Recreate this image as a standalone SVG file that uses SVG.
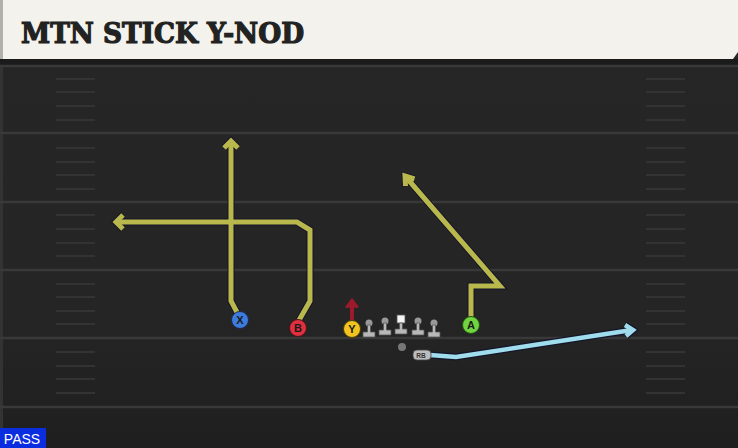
<svg xmlns="http://www.w3.org/2000/svg" width="738" height="448" viewBox="0 0 738 448">
<defs>
<linearGradient id="fg" x1="0" y1="0" x2="0" y2="1">
<stop offset="0" stop-color="#262626"/>
<stop offset="0.7" stop-color="#252525"/>
<stop offset="1" stop-color="#1f1f1f"/>
</linearGradient>
<style>
.yl{stroke:#393939;stroke-width:2.5}
.hm{stroke:#333;stroke-width:2}
.ro{fill:none;stroke:#15152a;stroke-width:7;stroke-linejoin:miter;stroke-linecap:butt}
.rt{fill:none;stroke:#b9b84c;stroke-width:5;stroke-linejoin:miter;stroke-linecap:butt}
.rb{fill:none;stroke:#9fdcec;stroke-width:4.5;stroke-linejoin:miter}
.lab{font-family:"Liberation Sans",Arial,sans-serif;font-weight:bold;font-size:11px;text-anchor:middle;fill:#1a1a1a}
.ol{fill:#b8b8b8;stroke:#555;stroke-width:0.8}
</style>
</defs>
<rect x="0" y="0" width="738" height="448" fill="url(#fg)"/>
<!-- header -->
<rect x="0" y="59" width="738" height="6" fill="#1b1b1b"/>
<path d="M0 0H738V52L733 59H0Z" fill="#f4f2ec"/>
<rect x="0" y="0" width="3" height="59" fill="#b0b0ac"/>
<text x="21" y="42.5" font-family="'DejaVu Serif',serif" font-weight="bold" font-size="27" fill="#222" stroke="#222" stroke-width="1.2" textLength="283" lengthAdjust="spacingAndGlyphs">MTN STICK Y-NOD</text>
<rect x="0" y="65" width="3" height="383" fill="#333"/>
<!-- yard lines -->
<g id="field">
<line class="yl" x1="0" y1="66" x2="738" y2="66"/>
<line class="yl" x1="0" y1="133" x2="738" y2="133"/>
<line class="yl" x1="0" y1="202" x2="738" y2="202"/>
<line class="yl" x1="0" y1="270" x2="738" y2="270"/>
<line class="yl" x1="0" y1="338" x2="738" y2="338"/>
<line class="yl" x1="0" y1="407" x2="738" y2="407"/>
<g id="hashL">
<path class="hm" d="M56 79H95M56 92H95M56 106H95M56 120H95M56 148H95M56 162H95M56 175H95M56 189H95M56 215H95M56 229H95M56 243H95M56 256H95M56 284H95M56 297H95M56 311H95M56 324H95M56 352H95M56 366H95M56 379H95M56 393H95"/>
</g>
<g id="hashR">
<path class="hm" d="M646 79H685M646 92H685M646 106H685M646 120H685M646 148H685M646 162H685M646 175H685M646 189H685M646 215H685M646 229H685M646 243H685M646 256H685M646 284H685M646 297H685M646 311H685M646 324H685M646 352H685M646 366H685M646 379H685M646 393H685"/>
</g>
</g>
<!-- connectors -->
<g id="routes">
<path class="ro" d="M240 318L231 301V141"/>
<path class="ro" d="M224 148L231 141L238 148"/>
<path class="ro" d="M298 322L310 301V230L297 222H116"/>
<path class="ro" d="M123 215L116 222L123 229"/>
<path class="ro" d="M471 318V286H500L405 176"/>
<path class="ro" d="M405.5 186L405 176L414.5 179"/>
<path class="rt" d="M240 318L231 301V141"/>
<path class="rt" d="M224 148L231 141L238 148"/>
<path class="rt" d="M298 322L310 301V230L297 222H116"/>
<path class="rt" d="M123 215L116 222L123 229"/>
<path class="rt" d="M471 318V286H500L405 176"/>
<path class="rt" d="M405.5 186L405 176L414.5 179"/>
<path d="M352 320V305" stroke="#9c1a2c" stroke-width="4" fill="none"/>
<path d="M346 307L352 299L358 307Z" fill="#9c1a2c" stroke="#9c1a2c" stroke-width="1.5" stroke-linejoin="round"/>
<path class="ro" d="M430 355L456 357L632 330"/>
<path class="ro" d="M625 325L633 330L626 336"/>
<path class="rb" d="M430 355L456 357L632 330"/>
<path class="rb" d="M625 325L633 330L626 336"/>
</g>
<!-- players -->
<g id="X"><circle cx="240" cy="320" r="8.5" fill="#3d7bdc" stroke="#1a2a50" stroke-width="1"/><text class="lab" x="240" y="324">X</text></g>
<g id="B"><circle cx="298" cy="328" r="8.5" fill="#df3040" stroke="#501018" stroke-width="1"/><text class="lab" x="298" y="332">B</text></g>
<g id="Y"><circle cx="352" cy="329" r="8.5" fill="#f2c41e" stroke="#504010" stroke-width="1"/><text class="lab" x="352" y="333">Y</text></g>
<g id="A"><circle cx="471" cy="325" r="8.5" fill="#70d440" stroke="#205010" stroke-width="1"/><text class="lab" x="471" y="329">A</text></g>
<g id="LT"><circle cx="369" cy="323" r="3.5" fill="#999"/><path class="ol" d="M367.5 325H370.5V332H375V337H363V332H367.5Z"/></g>
<g id="LG"><circle cx="385" cy="321" r="3.5" fill="#999"/><path class="ol" d="M383.5 323H386.5V330H391V335H379V330H383.5Z"/></g>
<g id="C"><rect x="397" y="315" width="8" height="8" fill="#f4f4f4" stroke="#555" stroke-width="0.8"/><path class="ol" d="M399.5 323H402.5V329H407V334H395V329H399.5Z"/></g>
<g id="RG"><circle cx="418" cy="321" r="3.5" fill="#999"/><path class="ol" d="M416.5 323H419.5V330H424V335H412V330H416.5Z"/></g>
<g id="RT"><circle cx="434" cy="323" r="3.5" fill="#999"/><path class="ol" d="M432.5 325H435.5V332H440V337H428V332H432.5Z"/></g>
<g id="QB"><circle cx="402" cy="347" r="4" fill="#777"/></g>
<g id="RB"><rect x="413" y="350" width="18" height="10" rx="4" fill="#bdbdbd" stroke="#444" stroke-width="0.8"/><text x="421" y="358" font-family="'Liberation Sans',Arial,sans-serif" font-size="6.5" font-weight="bold" fill="#333" text-anchor="middle">RB</text></g>
<g id="pass"><rect x="0" y="428" width="46" height="20" fill="#0b2de0"/><text x="22" y="444" font-family="'Liberation Sans',Arial,sans-serif" font-size="14" fill="#fff" text-anchor="middle">PASS</text></g>
</svg>
